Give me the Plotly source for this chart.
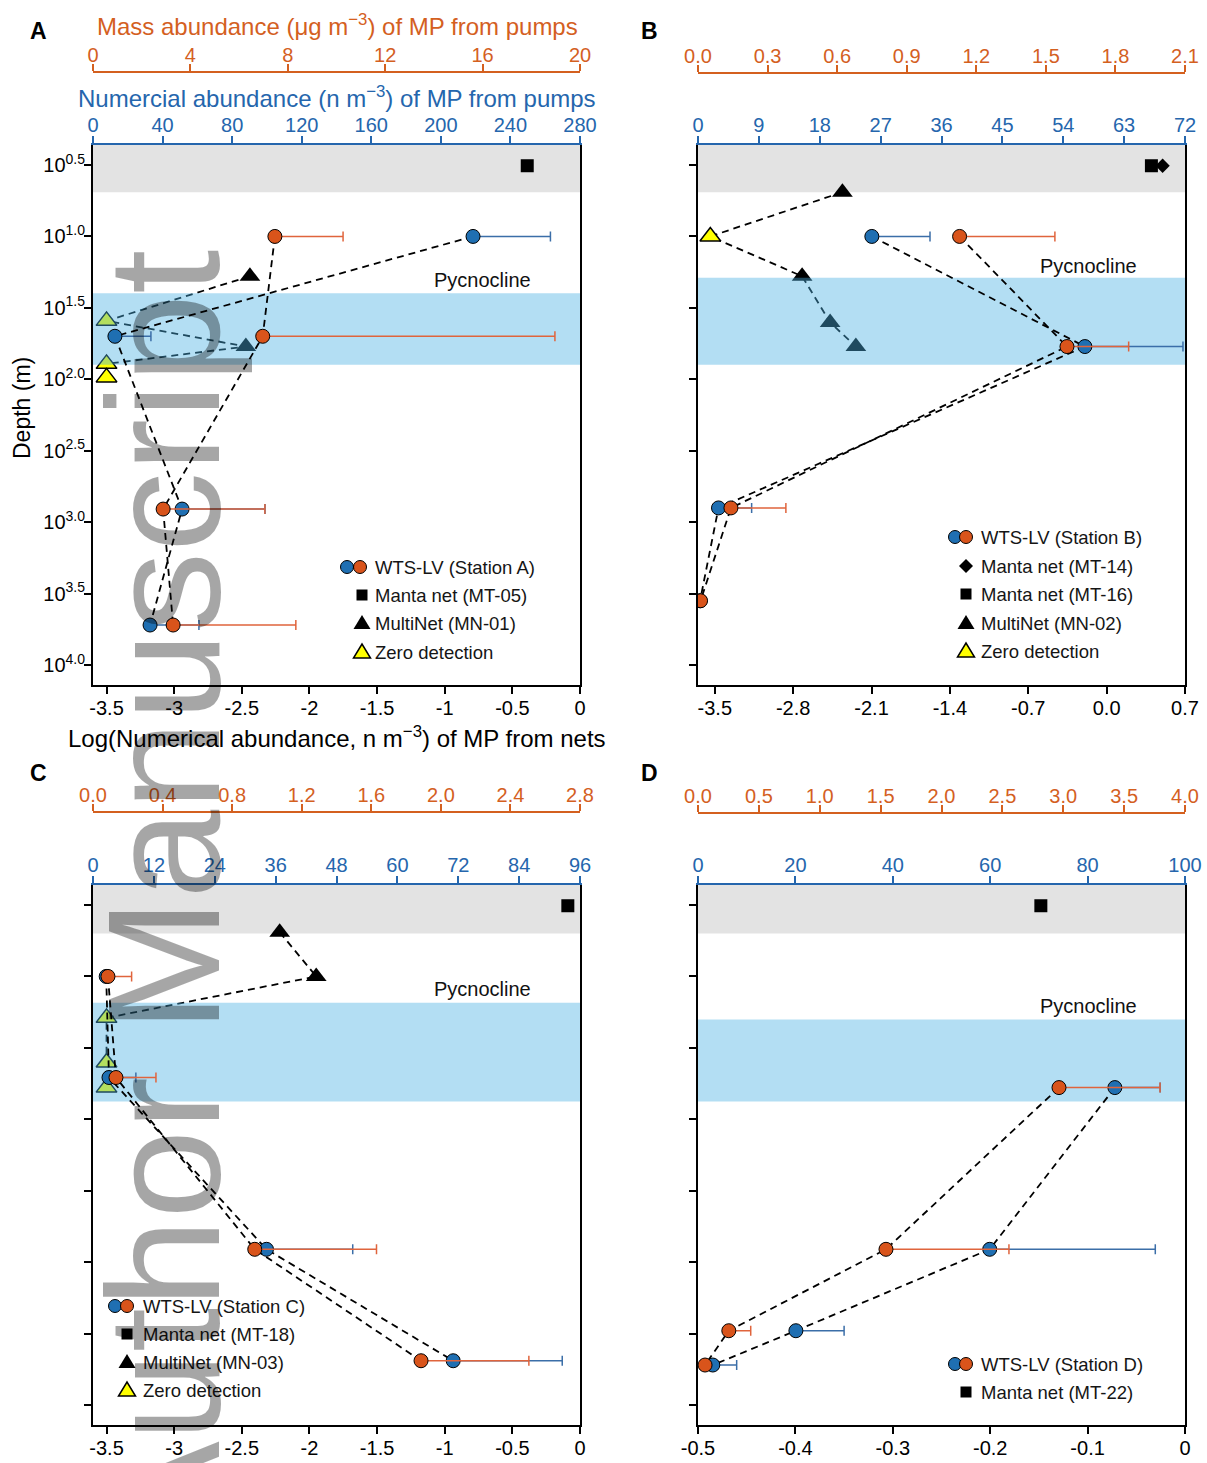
import plotly.graph_objects as go

W, H = 1207, 1463
FONT = "Arial, Liberation Sans, Helvetica, sans-serif"
BLUE = "#2566ad"
ORANGE = "#d4601f"
BLUE_M = "#1f6fb2"
ORANGE_M = "#d9541b"
BLUE_ERR = "#3b6ea8"
ORANGE_ERR = "#e0643c"

# ---------------- depth axis ----------------
Y_LOG_RANGE = [4.14, 0.36]
DEPTH_TICK_EXP = [0.5, 1.0, 1.5, 2.0, 2.5, 3.0, 3.5, 4.0]
DEPTH_TICK_TEXT = ["10<sup>0.5</sup>", "10<sup>1.0</sup>", "10<sup>1.5</sup>", "10<sup>2.0</sup>",
                   "10<sup>2.5</sup>", "10<sup>3.0</sup>", "10<sup>3.5</sup>", "10<sup>4.0</sup>"]

# ---------------- tick label lists ----------------
NET_TICKS_AC = [-3.5, -3, -2.5, -2, -1.5, -1, -0.5, 0]
NET_TEXT_AC = ["-3.5", "-3", "-2.5", "-2", "-1.5", "-1", "-0.5", "0"]
NET_TICKS_B = [-3.5, -2.8, -2.1, -1.4, -0.7, 0.0, 0.7]
NET_TEXT_B = ["-3.5", "-2.8", "-2.1", "-1.4", "-0.7", "0.0", "0.7"]
NET_TICKS_D = [-0.5, -0.4, -0.3, -0.2, -0.1, 0]
NET_TEXT_D = ["-0.5", "-0.4", "-0.3", "-0.2", "-0.1", "0"]

NUM_TICKS_A = [0, 40, 80, 120, 160, 200, 240, 280]
NUM_TICKS_B = [0, 9, 18, 27, 36, 45, 54, 63, 72]
NUM_TICKS_C = [0, 12, 24, 36, 48, 60, 72, 84, 96]
NUM_TICKS_D = [0, 20, 40, 60, 80, 100]
MASS_TICKS_A = [0, 4, 8, 12, 16, 20]
MASS_TEXT_A = ["0", "4", "8", "12", "16", "20"]
MASS_TICKS_B = [0.0, 0.3, 0.6, 0.9, 1.2, 1.5, 1.8, 2.1]
MASS_TEXT_B = ["0.0", "0.3", "0.6", "0.9", "1.2", "1.5", "1.8", "2.1"]
MASS_TICKS_C = [0.0, 0.4, 0.8, 1.2, 1.6, 2.0, 2.4, 2.8]
MASS_TEXT_C = ["0.0", "0.4", "0.8", "1.2", "1.6", "2.0", "2.4", "2.8"]
MASS_TICKS_D = [0.0, 0.5, 1.0, 1.5, 2.0, 2.5, 3.0, 3.5, 4.0]
MASS_TEXT_D = ["0.0", "0.5", "1.0", "1.5", "2.0", "2.5", "3.0", "3.5", "4.0"]

# ---------------- Panel A (Station A) ----------------
A_manta_depth = [3.2]
A_manta_val = [-0.39]
A_mn_depth = [19, 39, 59, 78, 97]
A_mn_val = [-2.44, None, -2.47, None, None]       # None = zero detection
A_pump_depth = [10, 50, 810, 5250]
A_num = [218.5, 12.6, 51.2, 32.8]
A_num_err = [44.5, 20.7, 47.7, 28.1]
A_mass = [7.47, 6.97, 2.88, 3.29]
A_mass_err = [2.80, 12.0, 4.18, 5.04]
A_surface = 4.9
A_pycno = [25, 79]

# ---------------- Panel B (Station B) ----------------
B_manta14_depth = [3.2]
B_manta14_val = [0.50]
B_manta16_depth = [3.2]
B_manta16_val = [0.40]
B_mn_depth = [4.9, 10, 19, 40, 59]
B_mn_val = [-2.36, None, -2.72, -2.47, -2.24]
B_pump_depth = [10, 59, 795, 3550]
B_num = [25.7, 57.2, 3.03, 0.3]
B_num_err = [8.6, 14.5, 4.9, 0]
B_mass = [1.128, 1.591, 0.142, 0.011]
B_mass_err = [0.411, 0.266, 0.237, 0]
B_surface = 4.9
B_pycno = [19.5, 79]

# ---------------- Panel C (Station C) ----------------
C_manta_depth = [3.2]
C_manta_val = [-0.09]
C_mn_depth = [4.9, 10, 19.5, 40, 60]
C_mn_val = [-2.22, -1.95, None, None, None]
C_pump_depth = [10, 51, 813, 4900]
C_num = [2.6, 3.15, 34.2, 71.0]
C_num_err = [0, 5.3, 17.0, 21.5]
C_mass = [0.086, 0.132, 0.93, 1.886]
C_mass_err = [0.136, 0.23, 0.70, 0.62]
C_surface = 5.0
C_pycno = [15.3, 75]

# ---------------- Panel D (Station D) ----------------
D_manta_depth = [3.2]
D_manta_val = [-0.148]
D_pump_depth = [60, 813, 3020, 5250]
D_num = [85.6, 59.9, 20.1, 3.04]
D_num_err = [9.3, 34.0, 9.9, 4.9]
D_mass = [2.965, 1.544, 0.253, 0.058]
D_mass_err = [0.83, 1.01, 0.18, 0]
D_surface = 5.0
D_pycno = [20, 75]


def P(x):
    return x / W


def Q(y):
    return 1 - y / H


panels = [
    dict(letter="A", xdom=(93, 580), ydom=(145, 685), opos=72, net_range=[-3.6, 0],
         net_ticks=NET_TICKS_AC, net_text=NET_TEXT_AC, num_range=[0, 280], num_ticks=NUM_TICKS_A,
         mass_range=[0, 20], mass_ticks=MASS_TICKS_A, mass_text=MASS_TEXT_A, zero_x=-3.5,
         manta=[(A_manta_depth, A_manta_val, "square", 13)], mn=(A_mn_depth, A_mn_val),
         pump=(A_pump_depth, A_num, A_num_err, A_mass, A_mass_err), surface=A_surface, pycno=A_pycno,
         ylabels=True, pyc=(482, 280),
         legend=dict(bx=347, ox=360, ix=362, tx=373, rows=[567, 595, 623, 652],
                     items=[("wts", "WTS-LV (Station A)"), ("square", "Manta net (MT-05)"),
                            ("tri", "MultiNet (MN-01)"), ("zero", "Zero detection")])),
    dict(letter="B", xdom=(698, 1185), ydom=(145, 685), opos=73, net_range=[-3.65, 0.7],
         net_ticks=NET_TICKS_B, net_text=NET_TEXT_B, num_range=[0, 72], num_ticks=NUM_TICKS_B,
         mass_range=[0, 2.1], mass_ticks=MASS_TICKS_B, mass_text=MASS_TEXT_B, zero_x=-3.54,
         manta=[(B_manta16_depth, B_manta16_val, "square", 13), (B_manta14_depth, B_manta14_val, "diamond", 11)],
         mn=(B_mn_depth, B_mn_val),
         pump=(B_pump_depth, B_num, B_num_err, B_mass, B_mass_err), surface=B_surface, pycno=B_pycno,
         ylabels=False, pyc=(1088, 266),
         legend=dict(bx=955, ox=966, ix=966, tx=979, rows=[537, 566, 594, 623, 651],
                     items=[("wts", "WTS-LV (Station B)"), ("diamond", "Manta net (MT-14)"),
                            ("square", "Manta net (MT-16)"), ("tri", "MultiNet (MN-02)"),
                            ("zero", "Zero detection")])),
    dict(letter="C", xdom=(93, 580), ydom=(885, 1425), opos=812, net_range=[-3.6, 0],
         net_ticks=NET_TICKS_AC, net_text=NET_TEXT_AC, num_range=[0, 96], num_ticks=NUM_TICKS_C,
         mass_range=[0, 2.8], mass_ticks=MASS_TICKS_C, mass_text=MASS_TEXT_C, zero_x=-3.5,
         manta=[(C_manta_depth, C_manta_val, "square", 13)], mn=(C_mn_depth, C_mn_val),
         pump=(C_pump_depth, C_num, C_num_err, C_mass, C_mass_err), surface=C_surface, pycno=C_pycno,
         ylabels=False, pyc=(482, 989),
         legend=dict(bx=115, ox=127, ix=127, tx=141, rows=[1306, 1334, 1362, 1390],
                     items=[("wts", "WTS-LV (Station C)"), ("square", "Manta net (MT-18)"),
                            ("tri", "MultiNet (MN-03)"), ("zero", "Zero detection")])),
    dict(letter="D", xdom=(698, 1185), ydom=(885, 1425), opos=813, net_range=[-0.5, 0],
         net_ticks=NET_TICKS_D, net_text=NET_TEXT_D, num_range=[0, 100], num_ticks=NUM_TICKS_D,
         mass_range=[0, 4.0], mass_ticks=MASS_TICKS_D, mass_text=MASS_TEXT_D, zero_x=None,
         manta=[(D_manta_depth, D_manta_val, "square", 13)], mn=None,
         pump=(D_pump_depth, D_num, D_num_err, D_mass, D_mass_err), surface=D_surface, pycno=D_pycno,
         ylabels=False, pyc=(1088, 1006),
         legend=dict(bx=955, ox=966, ix=966, tx=979, rows=[1364, 1392],
                     items=[("wts", "WTS-LV (Station D)"), ("square", "Manta net (MT-22)")])),
]

fig = go.Figure()
layout = {}
shapes = []
annotations = []
DASH = "7px,5px"
y_top = 10 ** Y_LOG_RANGE[1]


def axname(k, base):
    return base if k == 1 else f"{base}{k}"


def note(text, x, y, size, color="black", xanchor="center", angle=0):
    return dict(text=text, x=P(x), y=Q(y), xref="paper", yref="paper", xanchor=xanchor,
                yanchor="middle", textangle=angle, showarrow=False,
                font=dict(size=size, family=FONT, color=color))


for i, p in enumerate(panels):
    bx, nx, mx, yi = 3 * i + 1, 3 * i + 2, 3 * i + 3, i + 1
    xb, xn, xm, yr = axname(bx, "x"), axname(nx, "x"), axname(mx, "x"), axname(yi, "y")
    xdom = [P(p["xdom"][0]), P(p["xdom"][1])]
    ydom = [Q(p["ydom"][1]), Q(p["ydom"][0])]
    common = dict(showgrid=False, zeroline=False, ticks="outside", ticklen=7, tickwidth=2,
                  showline=True, linewidth=2, automargin=False)
    layout[axname(bx, "xaxis")] = dict(domain=xdom, anchor=yr, range=p["net_range"],
                                       tickmode="array", tickvals=p["net_ticks"], ticktext=p["net_text"],
                                       tickcolor="black", linecolor="black", ticklabelstandoff=-3,
                                       tickfont=dict(size=20, color="black", family=FONT), **common)
    layout[axname(nx, "xaxis")] = dict(domain=xdom, overlaying=xb, side="top", anchor=yr,
                                       range=p["num_range"], tickmode="array", tickvals=p["num_ticks"],
                                       ticktext=[str(v) for v in p["num_ticks"]],
                                       tickcolor=BLUE, linecolor=BLUE, ticklabelstandoff=-4,
                                       tickfont=dict(size=20, color=BLUE, family=FONT), **common)
    layout[axname(mx, "xaxis")] = dict(domain=xdom, overlaying=xb, side="top", anchor="free",
                                       position=Q(p["opos"]), range=p["mass_range"], tickmode="array",
                                       tickvals=p["mass_ticks"], ticktext=p["mass_text"],
                                       tickcolor=ORANGE, linecolor=ORANGE, ticklabelstandoff=-6,
                                       tickfont=dict(size=20, color=ORANGE, family=FONT), **common)
    layout[axname(yi, "yaxis")] = dict(domain=ydom, anchor=xb, type="log", range=Y_LOG_RANGE,
                                       tickmode="array", tickvals=[10 ** e for e in DEPTH_TICK_EXP],
                                       ticktext=DEPTH_TICK_TEXT, showticklabels=p["ylabels"],
                                       tickcolor="black", linecolor="black", mirror=True,
                                       ticklabelstandoff=-5,
                                       tickfont=dict(size=20, color="black", family=FONT), **common)

    r0, r1 = p["net_range"]
    # surface (grey) layer
    fig.add_trace(go.Scatter(x=[r0, r1, r1, r0], y=[y_top, y_top, p["surface"], p["surface"]],
                             fill="toself", fillcolor="#e3e3e3", mode="lines", line=dict(width=0),
                             xaxis=xb, yaxis=yr, hoverinfo="skip", showlegend=False))
    # manta nets
    for d, v, sym, sz in p["manta"]:
        fig.add_trace(go.Scatter(x=v, y=d, mode="markers", xaxis=xb, yaxis=yr, showlegend=False,
                                 marker=dict(symbol=sym, size=sz, color="black", line=dict(width=0))))
    # multinet
    if p["mn"] is not None:
        d, v = p["mn"]
        xs = [val if val is not None else p["zero_x"] for val in v]
        fig.add_trace(go.Scatter(x=xs, y=d, mode="lines", xaxis=xb, yaxis=yr, showlegend=False,
                                 line=dict(color="black", width=1.8, dash=DASH)))
        det = [(dd, vv) for dd, vv in zip(d, v) if vv is not None]
        zer = [(dd, p["zero_x"]) for dd, vv in zip(d, v) if vv is None]
        fig.add_trace(go.Scatter(x=[q[1] for q in det], y=[q[0] for q in det], mode="markers",
                                 xaxis=xb, yaxis=yr, showlegend=False,
                                 marker=dict(symbol="triangle-up", size=18, color="black",
                                             line=dict(width=0))))
        fig.add_trace(go.Scatter(x=[q[1] for q in zer], y=[q[0] for q in zer], mode="markers",
                                 xaxis=xb, yaxis=yr, showlegend=False,
                                 marker=dict(symbol="triangle-up", size=18, color="#ffff00",
                                             line=dict(width=1.5, color="black"))))
    # pycnocline band (drawn over net markers, translucent)
    pc = p["pycno"]
    fig.add_trace(go.Scatter(x=[r0, r1, r1, r0], y=[pc[0], pc[0], pc[1], pc[1]],
                             fill="toself", fillcolor="rgba(74,176,226,0.42)", mode="lines",
                             line=dict(width=0), xaxis=xb, yaxis=yr, hoverinfo="skip", showlegend=False))
    # pumps
    d, num, nerr, mass, merr = p["pump"]
    fig.add_trace(go.Scatter(x=num, y=d, mode="lines+markers", xaxis=xn, yaxis=yr, showlegend=False,
                             line=dict(color="black", width=1.8, dash=DASH),
                             marker=dict(symbol="circle", size=14, color=BLUE_M, line=dict(width=1, color="black")),
                             error_x=dict(type="data", symmetric=False, array=nerr, arrayminus=[0] * len(nerr),
                                          color=BLUE_ERR, thickness=1.5, width=5)))
    fig.add_trace(go.Scatter(x=mass, y=d, mode="lines+markers", xaxis=xm, yaxis=yr, showlegend=False,
                             line=dict(color="black", width=1.8, dash=DASH),
                             marker=dict(symbol="circle", size=14, color=ORANGE_M, line=dict(width=1, color="black")),
                             error_x=dict(type="data", symmetric=False, array=merr, arrayminus=[0] * len(merr),
                                          color=ORANGE_ERR, thickness=1.5, width=5)))

    # panel letter & pycnocline label
    lx = 38 if p["letter"] in "AC" else 649
    ly = 31 if p["letter"] in "AB" else 773
    annotations.append(note(f"<b>{p['letter']}</b>", lx, ly, 23))
    annotations.append(note("Pycnocline", p["pyc"][0], p["pyc"][1], 20, "#111111"))

    # manual legend
    lg = p["legend"]
    for (kind, label), ry in zip(lg["items"], lg["rows"]):
        base = dict(xref="paper", yref="paper", xsizemode="pixel", ysizemode="pixel",
                    yanchor=Q(ry), layer="above")
        if kind == "wts":
            shapes.append(dict(type="circle", xanchor=P(lg["bx"]), x0=-6.5, x1=6.5, y0=-6.5, y1=6.5,
                               fillcolor=BLUE_M, line=dict(color="black", width=1), **base))
            shapes.append(dict(type="circle", xanchor=P(lg["ox"]), x0=-6.5, x1=6.5, y0=-6.5, y1=6.5,
                               fillcolor=ORANGE_M, line=dict(color="black", width=1), **base))
        elif kind == "square":
            shapes.append(dict(type="rect", xanchor=P(lg["ix"]), x0=-5.5, x1=5.5, y0=-5.5, y1=5.5,
                               fillcolor="black", line=dict(width=0), **base))
        elif kind == "diamond":
            shapes.append(dict(type="path", xanchor=P(lg["ix"]), path="M -7,0 L 0,7 L 7,0 L 0,-7 Z",
                               fillcolor="black", line=dict(width=0), **base))
        elif kind == "tri":
            shapes.append(dict(type="path", xanchor=P(lg["ix"]), path="M -8.5,-6 L 8.5,-6 L 0,8 Z",
                               fillcolor="black", line=dict(width=0), **base))
        elif kind == "zero":
            shapes.append(dict(type="path", xanchor=P(lg["ix"]), path="M -8.5,-6 L 8.5,-6 L 0,8 Z",
                               fillcolor="#ffff00", line=dict(width=1.5, color="black"), **base))
        annotations.append(note(label, lg["tx"], ry, 18.5, "#151515", xanchor="left"))

# axis titles for panel A
annotations += [
    note("Mass abundance (μg m<sup>−3</sup>) of MP from pumps", 337, 25, 24, ORANGE),
    note("Numercial abundance (n m<sup>−3</sup>) of MP from pumps", 337, 97, 24, BLUE),
    note("Log(Numerical abundance, n m<sup>−3</sup>) of MP from nets", 337, 737, 24),
    note("Depth (m)", 22, 408, 23, angle=-90),
    # watermark
    note("Author Manuscript", 163, 899, 160, "rgba(0,0,0,0.35)", angle=-90),
]

fig.update_layout(template="none", width=W, height=H, margin=dict(l=0, r=0, t=0, b=0, pad=0),
                  autosize=False, paper_bgcolor="white", plot_bgcolor="white", showlegend=False,
                  font=dict(family=FONT), shapes=shapes, annotations=annotations, **layout)

fig.write_html("out.html", config={"displayModeBar": False},
               post_script="document.body.style.margin='0px';document.body.style.overflow='hidden';")
